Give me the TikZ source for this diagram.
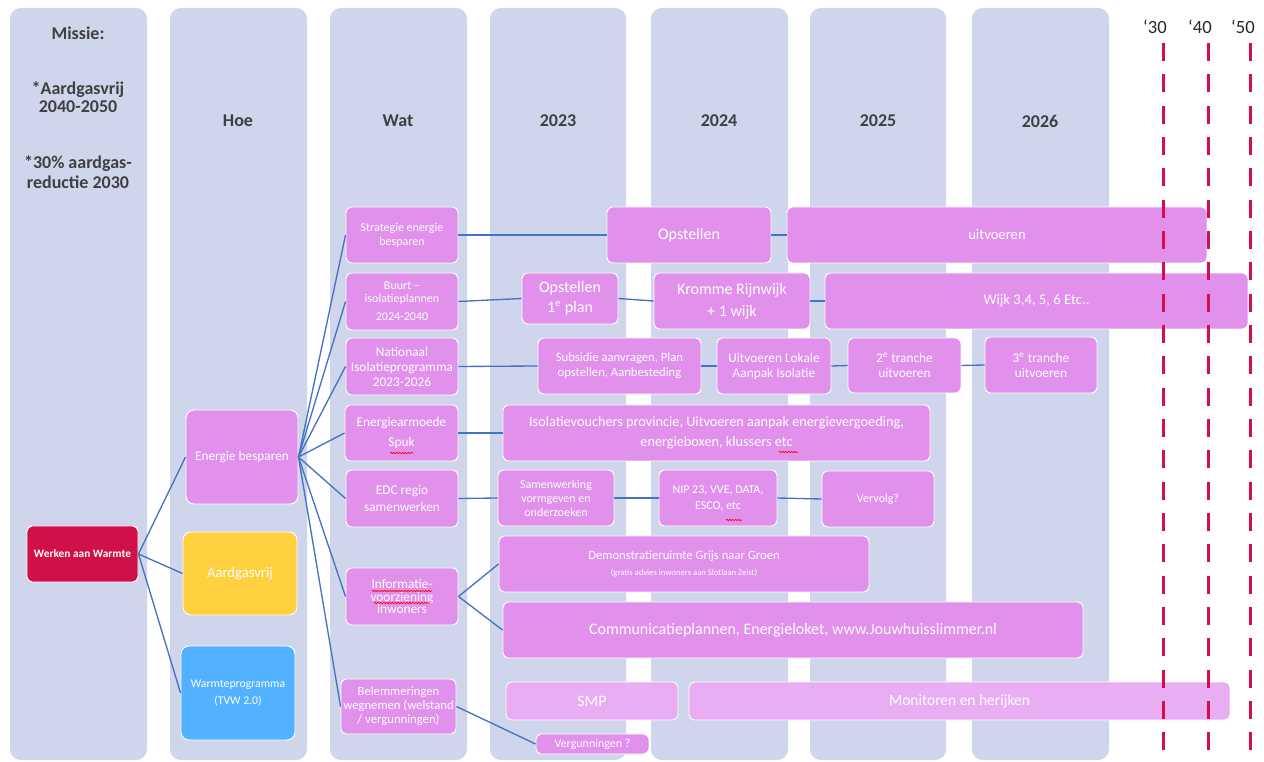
\documentclass[tikz,border=0pt]{standalone}
\usepackage{fontspec}
\setmainfont{Carlito}
\usetikzlibrary{decorations.pathmorphing}
\definecolor{kolomblauw}{RGB}{207,213,234}
\definecolor{roze}{RGB}{225,144,236}
\definecolor{lichtroze}{RGB}{232,173,243}
\definecolor{warmterood}{RGB}{208,16,72}
\definecolor{gasgeel}{RGB}{255,208,64}
\definecolor{programmablauw}{RGB}{82,178,255}
\definecolor{lijnblauw}{RGB}{68,114,196}
\definecolor{streeprood}{RGB}{214,12,76}
\definecolor{kopgrijs}{RGB}{64,64,64}
\newcommand{\maat}[2]{\fontsize{#1}{#2}\selectfont}
\newcommand{\blok}[7]{\node[#2, minimum width={(#5-#3)*0.75pt}, minimum height={(#6-#4)*0.75pt}] (#1) at ({(#3+#5)/2},{(#4+#6)/2}) {#7};}

\begin{document}
\begin{tikzpicture}[x=0.75pt, y=-0.75pt]
                        \tikzstyle{kolom}=[fill=kolomblauw, rounded corners=8pt]
                        \tikzstyle{kop}=[text=kopgrijs, font=\bfseries\maat{13.5}{19}, align=center]
                        \tikzstyle{blokje}=[rounded corners=4pt, fill=roze, draw=white, line width=0.7pt, text=white, align=center, inner sep=1pt]
                        \tikzstyle{licht}=[blokje, fill=lichtroze]
                        \tikzstyle{verbinding}=[draw=lijnblauw, line width=1pt]
                        \tikzstyle{tijdlijn}=[draw=streeprood, line width=2.25pt, dash pattern=on 13.5pt off 10pt]
                        \tikzstyle{jaartal}=[text=black!85, font=\maat{14}{16}]
                        \tikzstyle{kronkel}=[draw=red, line width=0.5pt, decorate, decoration={snake, amplitude=0.5pt, segment length=2.2pt}]
                        \useasboundingbox (0,0) rectangle (1264,762);
                        \fill[kolom] (10,8) rectangle (147,760);
                        \fill[kolom] (170,8) rectangle (307,760);
                        \fill[kolom] (330,8) rectangle (467,760);
                        \fill[kolom] (490,8) rectangle (626,760);
                        \fill[kolom] (651,8) rectangle (788,760);
                        \fill[kolom] (810,8) rectangle (946,760);
                        \fill[kolom] (972,8) rectangle (1109,760);
                        \node[kop] (missie) at (78,33) {Missie:};
                        \node[kop, font=\bfseries\maat{13.5}{14}] (doel1) at (78,97) {*Aardgasvrij\\2040-2050};
                        \node[kop, font=\bfseries\maat{13.5}{15}] (doel2) at (78,172) {*30\% aardgas-\\reductie 2030};
                        \node[kop] (kophoe) at (238,121) {Hoe};
                        \node[kop] (kopwat) at (398,121) {Wat};
                        \node[kop] (kop2023) at (558,121) {2023};
                        \node[kop] (kop2024) at (719,121) {2024};
                        \node[kop] (kop2025) at (878,121) {2025};
                        \node[kop] (kop2026) at (1040,121) {2026};
                        \blok{werken}{blokje, fill=warmterood, font=\bfseries\maat{8.5}{10}}{27}{526}{138}{582}{Werken aan Warmte}
                        \blok{energie}{blokje, rounded corners=6pt, font=\maat{10}{12}}{186}{410}{298}{504}{Energie besparen}
                        \blok{aardgas}{blokje, rounded corners=6pt, fill=gasgeel, font=\maat{11}{13}}{183}{532}{297}{615}{Aardgasvrij}
                        \blok{warmte}{blokje, rounded corners=6pt, fill=programmablauw, font=\maat{8.8}{13}}{181}{646}{295}{740}{Warmteprogramma\\(TVW 2.0)}
                        \blok{strategie}{blokje, font=\maat{9}{10.5}}{346}{207}{458}{263}{Strategie energie\\besparen}
                        \blok{buurt}{blokje, font=\maat{9}{10}}{346}{273}{458}{330}{Buurt –\\isolatieplannen\\[3.5pt]2024-2040}
                        \blok{nationaal}{blokje, font=\maat{10}{11.25}}{346}{338}{458}{395}{Nationaal\\Isolatieprogramma\\2023-2026}
                        \blok{armoede}{blokje, font=\maat{10}{15}}{345}{405}{458}{461}{Energiearmoede\\Spuk}
                        \blok{edc}{blokje, font=\maat{10}{12.5}}{346}{470}{458}{527}{EDC regio\\samenwerken}
                        \blok{informatie}{blokje, font=\maat{10}{9.5}}{346}{568}{458}{625}{Informatie-\\voorziening\\inwoners}
                        \blok{belemmering}{blokje, font=\maat{9.5}{10.5}}{341}{679}{456}{734}{Belemmeringen\\wegnemen (welstand\\/ vergunningen)}
                        \blok{opstellen}{blokje, font=\maat{12}{14}}{607}{207}{771}{263}{Opstellen}
                        \blok{uitvoeren}{blokje, font=\maat{11}{13}}{787}{207}{1207}{263}{uitvoeren}
                        \blok{eersteplan}{blokje, font=\maat{12}{15}}{522}{273}{618}{324}{Opstellen\\1\textsuperscript{e} plan}
                        \blok{kromme}{blokje, font=\maat{12}{16.5}}{654}{273}{810}{329}{Kromme Rijnwijk\\+ 1 wijk}
                        \blok{wijken}{blokje, font=\maat{11}{13}}{825}{273}{1248}{329}{Wijk 3,4, 5, 6 Etc..}
                        \blok{subsidie}{blokje, font=\maat{9.5}{11.25}}{538}{338}{701}{394}{Subsidie aanvragen, Plan\\opstellen, Aanbesteding}
                        \blok{lokaal}{blokje, font=\maat{10}{11.25}}{717}{338}{831}{394}{Uitvoeren Lokale\\Aanpak Isolatie}
                        \blok{tranche2}{blokje, font=\maat{10}{11.25}}{848}{338}{961}{393}{2\textsuperscript{e} tranche\\uitvoeren}
                        \blok{tranche3}{blokje, font=\maat{10}{11.25}}{985}{337}{1097}{393}{3\textsuperscript{e} tranche\\uitvoeren}
                        \blok{vouchers}{blokje, font=\maat{10.7}{15}}{503}{405}{930}{461}{Isolatievouchers provincie, Uitvoeren aanpak energievergoeding,\\energieboxen, klussers etc}
                        \blok{samenwerking}{blokje, font=\maat{9}{10.5}}{498}{470}{614}{526}{Samenwerking\\vormgeven en\\onderzoeken}
                        \blok{nip}{blokje, font=\maat{9}{12}}{659}{470}{777}{526}{NIP 23, VVE, DATA,\\ESCO, etc}
                        \blok{vervolg}{blokje, font=\maat{9}{11}}{822}{471}{934}{527}{Vervolg?}
                        \blok{demo}{blokje, font=\maat{9.5}{12.5}}{499}{536}{869}{592}{Demonstratieruimte Grijs naar Groen\\{\maat{6.5}{8}(gratis advies inwoners aan Slotlaan Zeist)}}
                        \blok{communicatie}{blokje, font=\maat{12}{14}}{503}{602}{1083}{658}{Communicatieplannen, Energieloket, www.Jouwhuisslimmer.nl}
                        \blok{smp}{licht, font=\maat{12}{14}}{506}{682}{678}{720}{SMP}
                        \blok{monitoren}{licht, font=\maat{11.6}{14}}{689}{682}{1230}{720}{Monitoren en herijken}
                        \blok{vergunning}{blokje, font=\maat{9}{10}}{536}{734}{649}{754}{Vergunningen ?}
                        \draw[verbinding] (werken.east) -- (energie.west);
                        \draw[verbinding] (werken.east) -- (aardgas.west);
                        \draw[verbinding] (werken.east) -- (warmte.west);
                        \draw[verbinding] (energie.east) -- (strategie.west);
                        \draw[verbinding] (energie.east) -- (buurt.west);
                        \draw[verbinding] (energie.east) -- (nationaal.west);
                        \draw[verbinding] (energie.east) -- (armoede.west);
                        \draw[verbinding] (energie.east) -- (edc.west);
                        \draw[verbinding] (energie.east) -- (informatie.west);
                        \draw[verbinding] (energie.east) -- (belemmering.west);
                        \draw[verbinding] (strategie.east) -- (opstellen.west);
                        \draw[verbinding] (opstellen.east) -- (uitvoeren.west);
                        \draw[verbinding] (buurt.east) -- (eersteplan.west);
                        \draw[verbinding] (eersteplan.east) -- (kromme.west);
                        \draw[verbinding] (kromme.east) -- (wijken.west);
                        \draw[verbinding] (nationaal.east) -- (subsidie.west);
                        \draw[verbinding] (subsidie.east) -- (lokaal.west);
                        \draw[verbinding] (lokaal.east) -- (tranche2.west);
                        \draw[verbinding] (tranche2.east) -- (tranche3.west);
                        \draw[verbinding] (armoede.east) -- (vouchers.west);
                        \draw[verbinding] (edc.east) -- (samenwerking.west);
                        \draw[verbinding] (samenwerking.east) -- (nip.west);
                        \draw[verbinding] (nip.east) -- (vervolg.west);
                        \draw[verbinding] (informatie.east) -- (demo.west);
                        \draw[verbinding] (informatie.east) -- (communicatie.west);
                        \draw[verbinding] (belemmering.east) -- (vergunning.west);
                        \draw[kronkel] (390,453) -- (413,453);
                        \draw[kronkel] (779,452) -- (798,452);
                        \draw[kronkel] (726,520) -- (742,520);
                        \draw[kronkel] (372,591) -- (432,591);
                        \draw[kronkel] (374,603) -- (430,603);
                        \coordinate (boven30) at (1163,43);
                        \coordinate (onder30) at (1163,762);
                        \coordinate (boven40) at (1208,43);
                        \coordinate (onder40) at (1208,762);
                        \coordinate (boven50) at (1250,43);
                        \coordinate (onder50) at (1250,762);
                        \draw[tijdlijn] (boven30) -- (onder30);
                        \draw[tijdlijn] (boven40) -- (onder40);
                        \draw[tijdlijn] (boven50) -- (onder50);
                        \node[jaartal] (label30) at (1155,27) {‘30};
                        \node[jaartal] (label40) at (1200,27) {‘40};
                        \node[jaartal] (label50) at (1243,27) {‘50};
                    \end{tikzpicture}
\end{document}
